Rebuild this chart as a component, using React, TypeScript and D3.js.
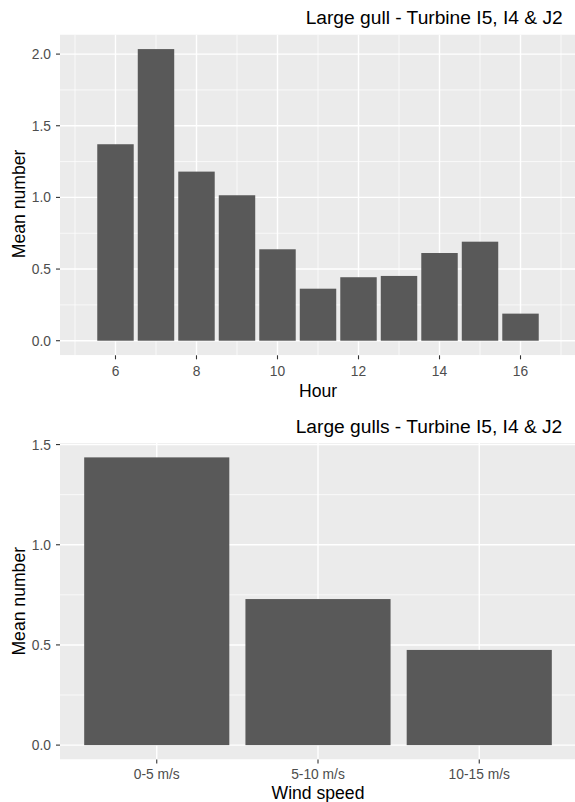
import React from "react";
import * as d3 from "d3";

const hours = [6, 7, 8, 9, 10, 11, 12, 13, 14, 15, 16];
const hourMeans = [1.371, 2.035, 1.18, 1.015, 0.638, 0.363, 0.443, 0.452, 0.612, 0.691, 0.189];
const hourTicks = [6, 8, 10, 12, 14, 16];
const hourMinor = [5, 7, 9, 11, 13, 15, 17];
const topYTicks = [0, 0.5, 1.0, 1.5, 2.0];
const topYMinor = [0.25, 0.75, 1.25, 1.75];

const windCats = ["0-5 m/s", "5-10 m/s", "10-15 m/s"];
const windMeans = [1.436, 0.729, 0.475];
const botYTicks = [0, 0.5, 1.0, 1.5];
const botYMinor = [0.25, 0.75, 1.25];

const title1 = "Large gull - Turbine I5, I4 & J2";
const title2 = "Large gulls - Turbine I5, I4 & J2";

const FONT = "'Liberation Sans', Arial, sans-serif";
const PANEL_BG = "#EBEBEB";
const BAR = "#595959";
const TEXT_GREY = "#4D4D4D";

const W = 575;
const H = 802;
const PL = 60;
const PR = 576;
const TICK_FS = 13.8;
const AXT_FS = 17.6;
const TITLE_FS = 19.2;

export default function App() {
  // Top panel
  const t = { top: 34.5, bottom: 355.3 };
  const xTop = d3.scaleLinear().domain([4.63, 17.37]).range([PL, PR]);
  const maxT = d3.max(hourMeans)!;
  const yTop = d3
    .scaleLinear()
    .domain([-0.05 * maxT, maxT * 1.05])
    .range([t.bottom, t.top]);

  // Bottom panel
  const b = { top: 443, bottom: 759.5 };
  const xBot = d3.scaleBand<string>().domain(windCats).range([PL, PR]).paddingInner(0.1).paddingOuter(0.15);
  const maxB = d3.max(windMeans)!;
  const yBot = d3
    .scaleLinear()
    .domain([-0.05 * maxB, maxB * 1.05])
    .range([b.bottom, b.top]);

  const barW = xTop(0.9) - xTop(0);

  return (
    <svg
      width={W}
      height={H}
      style={{ position: "absolute", left: 0, top: 0, background: "#fff" }}
      fontFamily={FONT}
    >
      <defs>
        <clipPath id="clipTop">
          <rect x={PL} y={t.top} width={PR - PL} height={t.bottom - t.top} />
        </clipPath>
        <clipPath id="clipBot">
          <rect x={PL} y={b.top} width={PR - PL} height={b.bottom - b.top} />
        </clipPath>
      </defs>

      {/* ---------- TOP PANEL ---------- */}
      <g clipPath="url(#clipTop)">
        <rect x={PL} y={t.top} width={PR - PL} height={t.bottom - t.top} fill={PANEL_BG} />
        {topYMinor.map((v) => (
          <line key={"tym" + v} x1={PL} x2={PR} y1={yTop(v)} y2={yTop(v)} stroke="#fff" strokeWidth={0.7} />
        ))}
        {hourMinor.map((v) => (
          <line key={"txm" + v} x1={xTop(v)} x2={xTop(v)} y1={t.top} y2={t.bottom} stroke="#fff" strokeWidth={0.7} />
        ))}
        {topYTicks.map((v) => (
          <line key={"ty" + v} x1={PL} x2={PR} y1={yTop(v)} y2={yTop(v)} stroke="#fff" strokeWidth={1.4} />
        ))}
        {hourTicks.map((v) => (
          <line key={"tx" + v} x1={xTop(v)} x2={xTop(v)} y1={t.top} y2={t.bottom} stroke="#fff" strokeWidth={1.4} />
        ))}
        {hours.map((h, i) => (
          <rect
            key={"bar" + h}
            x={xTop(h - 0.45)}
            y={yTop(hourMeans[i])}
            width={barW}
            height={yTop(0) - yTop(hourMeans[i])}
            fill={BAR}
          />
        ))}
      </g>
      {topYTicks.map((v) => (
        <g key={"tyl" + v}>
          <line x1={PL - 4} x2={PL} y1={yTop(v)} y2={yTop(v)} stroke="#333" strokeWidth={1.1} />
          <text x={PL - 9} y={yTop(v)} dy="0.36em" textAnchor="end" fontSize={TICK_FS} fill={TEXT_GREY}>
            {d3.format(".1f")(v)}
          </text>
        </g>
      ))}
      {hourTicks.map((v) => (
        <g key={"txl" + v}>
          <line x1={xTop(v)} x2={xTop(v)} y1={t.bottom} y2={t.bottom + 4} stroke="#333" strokeWidth={1.1} />
          <text x={xTop(v)} y={375.7} textAnchor="middle" fontSize={TICK_FS} fill={TEXT_GREY}>
            {v}
          </text>
        </g>
      ))}
      <text x={(PL + PR) / 2} y={396.7} textAnchor="middle" fontSize={AXT_FS} fill="#000">
        Hour
      </text>
      <text
        transform={`translate(25, ${(t.top + t.bottom) / 2 + 9}) rotate(-90)`}
        textAnchor="middle"
        fontSize={AXT_FS}
        fill="#000"
      >
        Mean number
      </text>
      <text x={562.7} y={24} textAnchor="end" fontSize={TITLE_FS} fill="#000">
        {title1}
      </text>

      {/* ---------- BOTTOM PANEL ---------- */}
      <g clipPath="url(#clipBot)">
        <rect x={PL} y={b.top} width={PR - PL} height={b.bottom - b.top} fill={PANEL_BG} />
        {botYMinor.map((v) => (
          <line key={"bym" + v} x1={PL} x2={PR} y1={yBot(v)} y2={yBot(v)} stroke="#fff" strokeWidth={0.7} />
        ))}
        {botYTicks.map((v) => (
          <line key={"by" + v} x1={PL} x2={PR} y1={yBot(v)} y2={yBot(v)} stroke="#fff" strokeWidth={1.4} />
        ))}
        {windCats.map((c) => (
          <line
            key={"bx" + c}
            x1={xBot(c)! + xBot.bandwidth() / 2}
            x2={xBot(c)! + xBot.bandwidth() / 2}
            y1={b.top}
            y2={b.bottom}
            stroke="#fff"
            strokeWidth={1.4}
          />
        ))}
        {windCats.map((c, i) => (
          <rect
            key={"wbar" + c}
            x={xBot(c)!}
            y={yBot(windMeans[i])}
            width={xBot.bandwidth()}
            height={yBot(0) - yBot(windMeans[i])}
            fill={BAR}
          />
        ))}
      </g>
      {botYTicks.map((v) => (
        <g key={"byl" + v}>
          <line x1={PL - 4} x2={PL} y1={yBot(v)} y2={yBot(v)} stroke="#333" strokeWidth={1.1} />
          <text x={PL - 9} y={yBot(v)} dy="0.36em" textAnchor="end" fontSize={TICK_FS} fill={TEXT_GREY}>
            {d3.format(".1f")(v)}
          </text>
        </g>
      ))}
      {windCats.map((c) => {
        const cx = xBot(c)! + xBot.bandwidth() / 2;
        return (
          <g key={"bxl" + c}>
            <line x1={cx} x2={cx} y1={b.bottom} y2={b.bottom + 4} stroke="#333" strokeWidth={1.1} />
            <text x={cx} y={779} textAnchor="middle" fontSize={TICK_FS} fill={TEXT_GREY}>
              {c}
            </text>
          </g>
        );
      })}
      <text x={(PL + PR) / 2} y={799} textAnchor="middle" fontSize={AXT_FS} fill="#000">
        Wind speed
      </text>
      <text
        transform={`translate(25, ${(b.top + b.bottom) / 2}) rotate(-90)`}
        textAnchor="middle"
        fontSize={AXT_FS}
        fill="#000"
      >
        Mean number
      </text>
      <text x={562.3} y={433.3} textAnchor="end" fontSize={TITLE_FS} fill="#000">
        {title2}
      </text>
    </svg>
  );
}
